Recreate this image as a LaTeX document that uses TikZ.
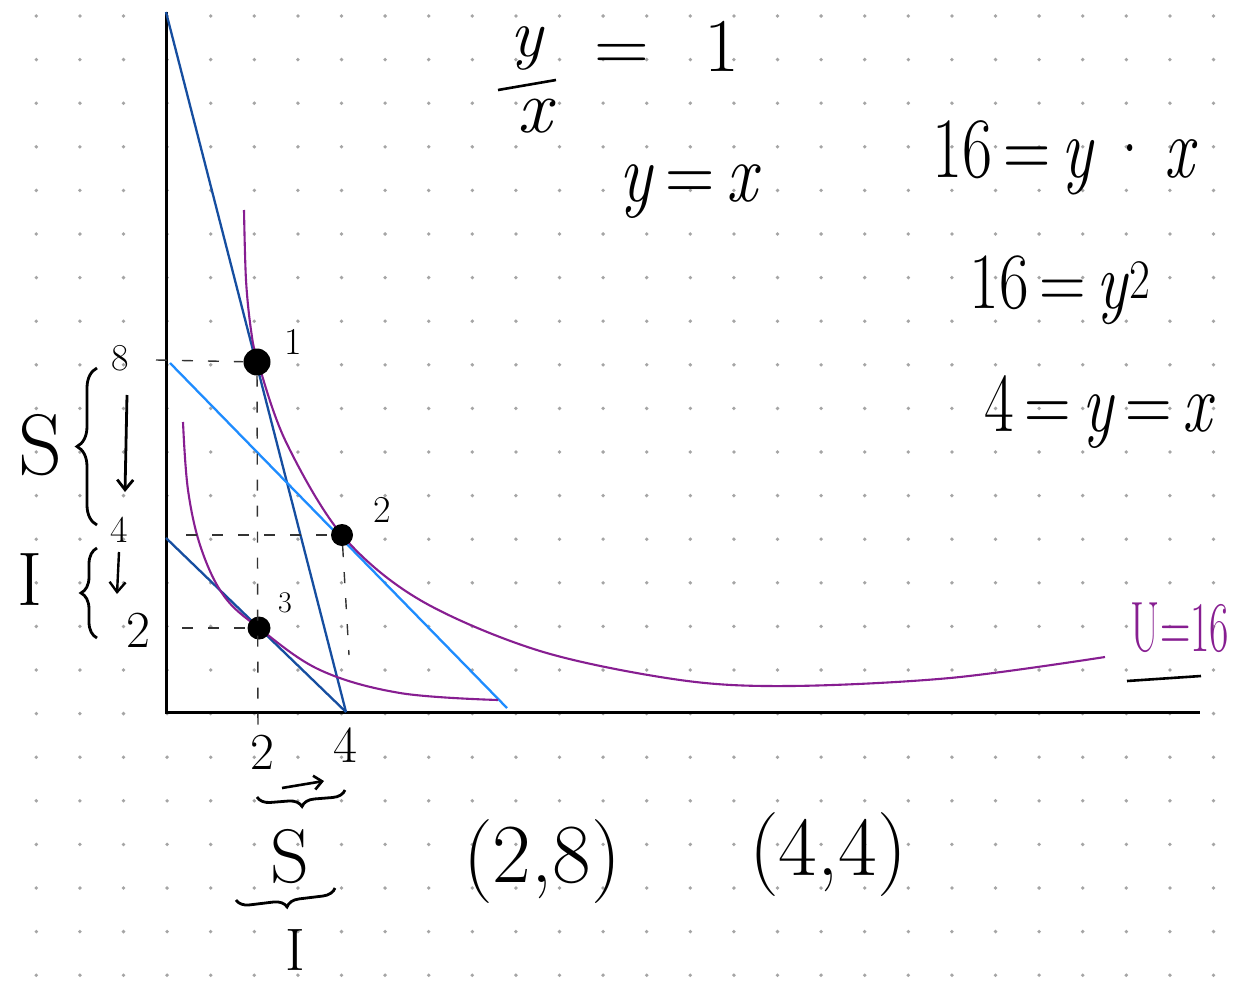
\documentclass[tikz,border=0pt]{standalone}
\usepackage{xcolor}
\usepackage{tikz}
\usetikzlibrary{arrows.meta,calc,positioning,decorations.pathreplacing}

\definecolor{gridgray}{RGB}{165,165,165}
\definecolor{steepblue}{RGB}{22,78,160}
\definecolor{lightblue}{RGB}{30,140,255}
\definecolor{utilpurple}{RGB}{135,30,145}

\begin{document}
\begin{tikzpicture}[
      x=1pt, y=-1pt,
      hand/.style={inner sep=0pt, text=black},
      hugetxt/.style={hand, font=\fontsize{86}{90}\selectfont},
      bigtxt/.style={hand, font=\fontsize{76}{80}\selectfont},
      midtxt/.style={hand, font=\fontsize{52}{56}\selectfont},
      smalltxt/.style={hand, font=\fontsize{38}{42}\selectfont},
      tinytxt/.style={hand, font=\fontsize{30}{34}\selectfont},
      axis/.style={line width=3pt, black},
      budget/.style={line width=2.3pt},
      indiff/.style={line width=2.1pt, utilpurple},
      guide/.style={line width=1.4pt, black!80, dash pattern=on 11pt off 15pt},
      bundle/.style={circle, fill=black, inner sep=0pt},
      brace/.style={decorate, decoration={brace, amplitude=16pt}, line width=2.8pt},
      down/.style={-{Straight Barb[length=10pt, width=16pt]}, line width=2.8pt}
    ]
    \useasboundingbox (0,0) rectangle (1242,985);
    \fill[white] (0,0) rectangle (1242,985);
    \foreach \i in {0,...,28}
      \foreach \j in {0,...,22}
        \fill[gridgray] ({36.3+43.6*\i},{16+43.6*\j}) circle[radius=1.9pt];

    \coordinate (origin) at (166,712);
    \coordinate (ytop) at (166,12);
    \coordinate (xend) at (1200,712);
    \coordinate (steepend) at (346,712);
    \coordinate (flattop) at (170,363);
    \coordinate (flatend) at (507,708);
    \coordinate (lowtop) at (166,538);

    \draw[axis] (ytop) -- (origin) -- (xend);

    \draw[budget, steepblue] (ytop) -- (steepend);
    \draw[budget, lightblue] (flattop) -- (flatend);
    \draw[budget, steepblue] (lowtop) -- (steepend);

    \draw[indiff] plot[smooth, tension=0.55] coordinates {
      (244,210) (246,280) (251,330) (258,362) (286,442) (342,535) (420,600)
      (540,651) (680,680) (790,686) (950,678) (1105,657)};
    \draw[indiff] plot[smooth, tension=0.6] coordinates {
      (183,422) (188,490) (201,548) (224,596) (259,628) (320,670) (400,693) (498,700)};

    \node[bundle, minimum size=27pt] (b1) at (257,362) {};
    \node[bundle, minimum size=22pt] (b2) at (342,535) {};
    \node[bundle, minimum size=23pt] (b3) at (259,628) {};

    \node[smalltxt, right=14pt of b1, yshift=20pt] (l1) {1};
    \node[smalltxt] (l2) at (382,510) {2};
    \node[tinytxt] (l3) at (285,603) {3};

    \coordinate (h8) at (156,360);
    \coordinate (h4) at (186,535);
    \coordinate (h2) at (182,628);
    \coordinate (v2) at (258,738);
    \coordinate (v4) at (349,655);
    \draw[guide] (h8) -- (b1);
    \draw[guide] (b1) -- (v2);
    \draw[guide] (h4) -- (b2);
    \draw[guide] (b2) -- (v4);
    \draw[guide] (h2) -- (b3);

    \node[smalltxt] (y8) at (120,358) {8};
    \node[smalltxt] (y4) at (119,530) {4};
    \node[midtxt] (y2) at (138,630) {2};
    \node[midtxt] (x2) at (262,752) {2};
    \node[midtxt] (x4) at (345,745) {4};

    \draw[brace, decoration={amplitude=20pt}] (97,525) -- (97,368);
    \draw[brace] (97,638) -- (97,548);
    \node[hugetxt] (sleft) at (40,445) {S};
    \node[bigtxt] (ileft) at (30,580) {I};
    \coordinate (sdown1) at (127,395);
    \coordinate (sdown2) at (125,492);
    \coordinate (idown1) at (119,552);
    \coordinate (idown2) at (117,594);
    \draw[down] (sdown1) -- (sdown2);
    \draw[down, line width=2.4pt] (idown1) -- (idown2);

    \coordinate (sright1) at (282,788);
    \coordinate (sright2) at (324,781);
    \draw[-{Straight Barb[length=8pt, width=14pt]}, line width=2.6pt] (sright1) -- (sright2);
    \draw[brace, decoration={amplitude=13pt}] (345,790) -- (257,797);
    \node[bigtxt] (sbottom) at (290,857) {S};
    \draw[brace, decoration={amplitude=13pt}] (335,888) -- (236,900);
    \node[hand, font=\fontsize{60}{64}\selectfont] (ibottom) at (295,950) {I};

    \node[hand, font=\fontsize{68}{72}\selectfont] (ynum) at (528,48) {\textit{y}};
    \coordinate (barleft) at (498,90);
    \coordinate (barright) at (556,80);
    \draw[line width=2.6pt] (barleft) -- (barright);
    \node[bigtxt] (xden) at (537,116) {\textit{x}};
    \node[bigtxt] (eqa) at (622,58) {=};
    \node[bigtxt] (one) at (722,46) {1};

    \node[bigtxt] (yeqx) at (690,192) {\scalebox{0.9}[1.1]{\textit{y}\,=\,\textit{x}}};
    \node[bigtxt, font=\fontsize{82}{86}\selectfont] (prod) at (1065,158)
      {\scalebox{0.8}[1.05]{16\,=\,\textit{y}\,\textperiodcentered\,\textit{x}}};
    \node[bigtxt] (square) at (1060,290)
      {\scalebox{0.85}[1.05]{16\,=\,\textit{y}\textsuperscript{2}}};
    \node[bigtxt] (solve) at (1100,412)
      {\scalebox{0.85}[1.1]{4\,=\,\textit{y}\,=\,\textit{x}}};

    \node[bigtxt, font=\fontsize{84}{88}\selectfont] (bundleA) at (542,862) {(2,8)};
    \node[bigtxt, font=\fontsize{84}{88}\selectfont] (bundleB) at (828,855) {(4,4)};

    \node[hand, text=utilpurple, font=\fontsize{62}{66}\selectfont] (ulabel) at (1180,628)
      {\scalebox{0.68}[1.15]{U=16}};
    \coordinate (uline1) at (1127,681);
    \coordinate (uline2) at (1201,676);
    \draw[line width=2.6pt] (uline1) -- (uline2);
  \end{tikzpicture}
\end{document}
